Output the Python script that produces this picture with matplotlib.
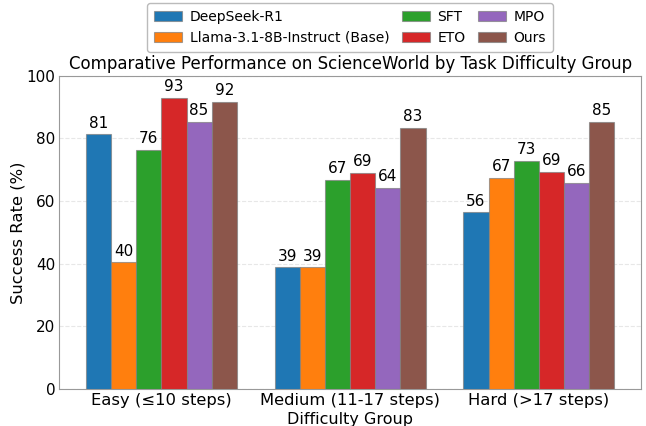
import matplotlib
matplotlib.use("Agg")
import matplotlib.pyplot as plt
import numpy as np

groups = ["Easy (≤10 steps)", "Medium (11-17 steps)", "Hard (>17 steps)"]
methods = ["DeepSeek-R1", "Llama-3.1-8B-Instruct (Base)", "SFT", "ETO", "MPO", "Ours"]
deepseek = [81.3, 38.8, 56.4]
llama = [40.4, 38.8, 67.3]
sft = [76.4, 66.8, 72.9]
eto = [93.0, 69.1, 69.3]
mpo = [85.3, 64.1, 65.7]
ours = [91.7, 83.4, 85.4]
series = [deepseek, llama, sft, eto, mpo, ours]
colors = ["#1f77b4", "#ff7f0e", "#2ca02c", "#d62728", "#9467bd", "#8c564b"]

fig = plt.figure(figsize=(6.46, 4.26), dpi=100)
ax = fig.add_axes([0.092, 0.087, 0.9, 0.735])

x = np.arange(len(groups))
width = 0.8 / len(methods)
for i, (name, vals, c) in enumerate(zip(methods, series, colors)):
    pos = x + (i - (len(methods) - 1) / 2) * width
    bars = ax.bar(pos, vals, width, label=name, color=c,
                  edgecolor=(0.5, 0.5, 0.5, 0.7), linewidth=0.8, zorder=3)
    for b, v in zip(bars, vals):
        ax.text(b.get_x() + b.get_width() / 2, v + 1.2, f"{v:.0f}",
                ha="center", va="bottom", fontsize=11)

ax.set_ylim(0, 100)
ax.set_xticks(x)
ax.set_xticklabels(groups, fontsize=11.8)
ax.tick_params(axis="y", labelsize=11, length=0, pad=3)
ax.tick_params(axis="x", length=0, pad=3)
ax.set_ylabel("Success Rate (%)", fontsize=11.8, labelpad=1)
ax.set_xlabel("Difficulty Group", fontsize=11.5, labelpad=2.5)
ax.set_title("Comparative Performance on ScienceWorld by Task Difficulty Group", fontsize=12, pad=5)
ax.grid(axis="y", linestyle="--", alpha=0.3, zorder=0)
for s in ax.spines.values():
    s.set_color("#999999")
ax.legend(loc="lower center", bbox_to_anchor=(0.5, 1.055), ncol=3, fontsize=10,
          frameon=True, edgecolor="#aaaaaa", handlelength=2.0, handletextpad=0.55,
          columnspacing=0.9, borderpad=0.5, labelspacing=0.5)

fig.savefig("out.png", dpi=100)
